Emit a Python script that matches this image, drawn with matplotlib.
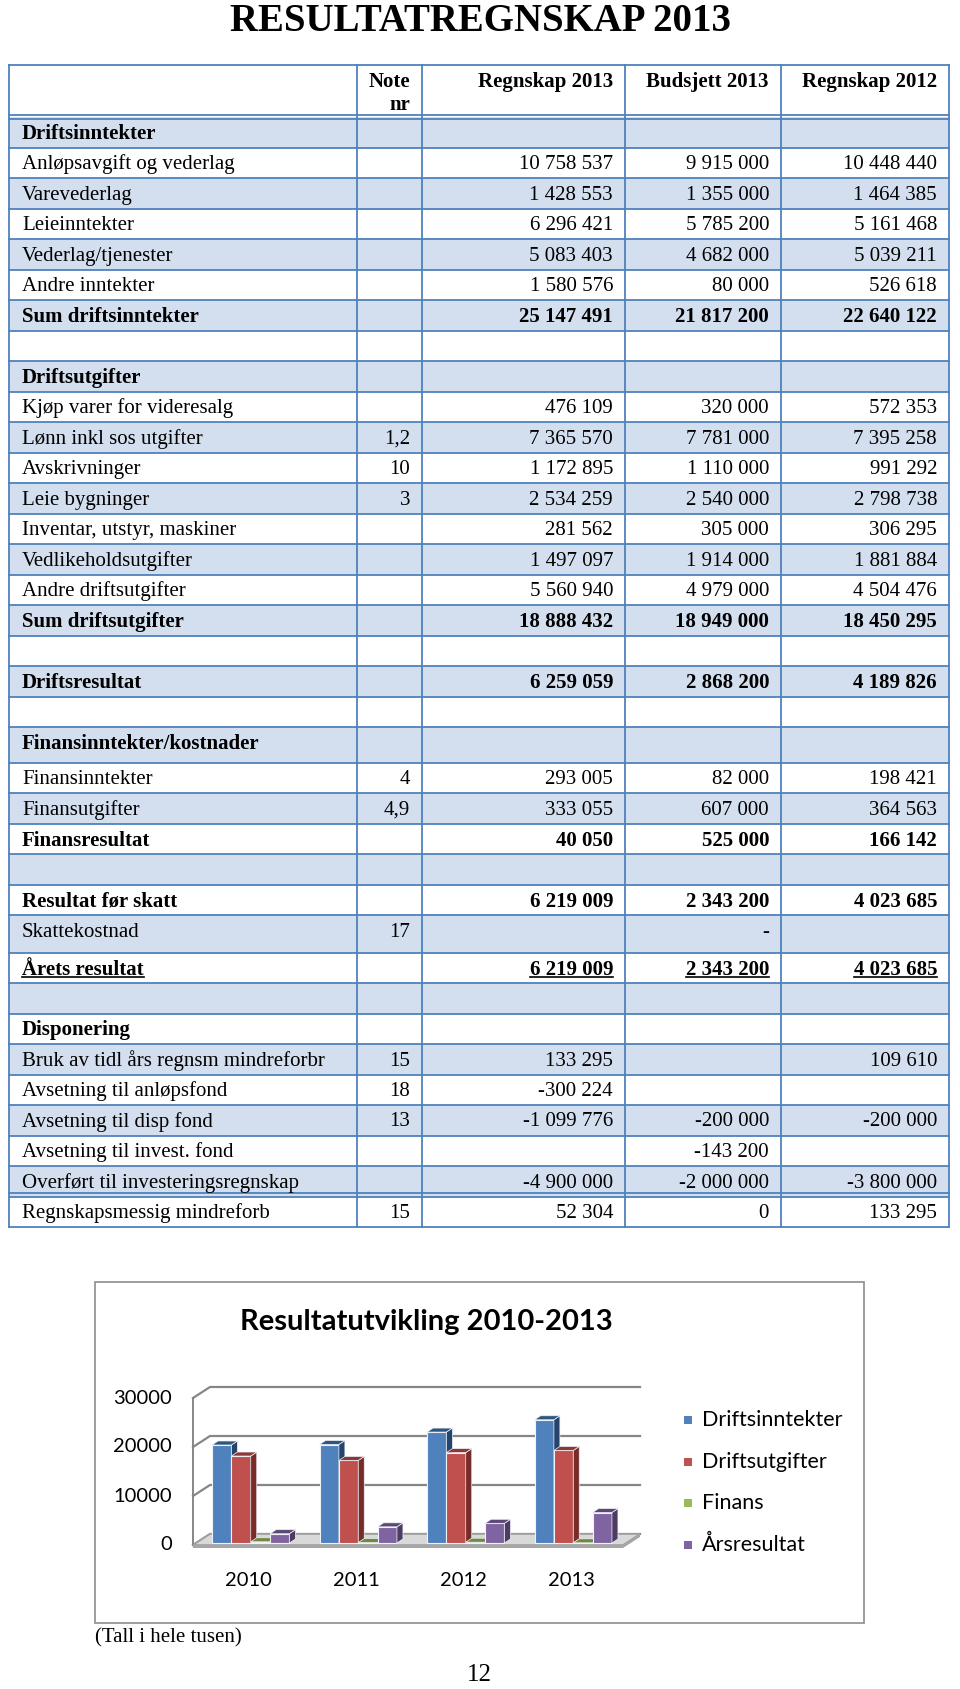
import matplotlib
matplotlib.use('Agg')
import matplotlib.pyplot as plt
from matplotlib.patches import Rectangle, Polygon
import numpy as np

W, H = 960, 1689

# --- tabell: resultatregnskap ---
labels = ["Driftsinntekter", "Anløpsavgift og vederlag", "Varevederlag", "Leieinntekter",
          "Vederlag/tjenester", "Andre inntekter", "Sum driftsinntekter", "",
          "Driftsutgifter", "Kjøp varer for videresalg", "Lønn inkl sos utgifter",
          "Avskrivninger", "Leie bygninger", "Inventar, utstyr, maskiner",
          "Vedlikeholdsutgifter", "Andre driftsutgifter", "Sum driftsutgifter", "",
          "Driftsresultat", "", "Finansinntekter/kostnader", "Finansinntekter",
          "Finansutgifter", "Finansresultat", "", "Resultat før skatt", "Skattekostnad",
          "Årets resultat", "", "Disponering", "Bruk av tidl års regnsm mindreforbr",
          "Avsetning til anløpsfond", "Avsetning til disp fond", "Avsetning til invest. fond",
          "Overført til investeringsregnskap", "Regnskapsmessig mindreforb"]
notes = ["", "", "", "", "", "", "", "", "", "", "1,2", "10", "3", "", "", "", "", "",
         "", "", "", "4", "4,9", "", "", "", "17", "", "", "", "15", "18", "13", "", "", "15"]
regnskap_2013 = ["", "10 758 537", "1 428 553", "6 296 421", "5 083 403", "1 580 576",
                 "25 147 491", "", "", "476 109", "7 365 570", "1 172 895", "2 534 259",
                 "281 562", "1 497 097", "5 560 940", "18 888 432", "", "6 259 059", "", "",
                 "293 005", "333 055", "40 050", "", "6 219 009", "", "6 219 009", "", "",
                 "133 295", "-300 224", "-1 099 776", "", "-4 900 000", "52 304"]
budsjett_2013 = ["", "9 915 000", "1 355 000", "5 785 200", "4 682 000", "80 000",
                 "21 817 200", "", "", "320 000", "7 781 000", "1 110 000", "2 540 000",
                 "305 000", "1 914 000", "4 979 000", "18 949 000", "", "2 868 200", "", "",
                 "82 000", "607 000", "525 000", "", "2 343 200", "-", "2 343 200", "", "",
                 "", "", "-200 000", "-143 200", "-2 000 000", "0"]
regnskap_2012 = ["", "10 448 440", "1 464 385", "5 161 468", "5 039 211", "526 618",
                 "22 640 122", "", "", "572 353", "7 395 258", "991 292", "2 798 738",
                 "306 295", "1 881 884", "4 504 476", "18 450 295", "", "4 189 826", "", "",
                 "198 421", "364 563", "166 142", "", "4 023 685", "", "4 023 685", "", "",
                 "109 610", "", "-200 000", "", "-3 800 000", "133 295"]
bold_rows = [0, 6, 8, 16, 18, 20, 23, 25, 27, 29]
underline_rows = [27]
col_heads = ["Regnskap 2013", "Budsjett 2013", "Regnskap 2012"]

# --- diagram: resultatutvikling (tall i hele tusen) ---
years = ["2010", "2011", "2012", "2013"]
series_names = ["Driftsinntekter", "Driftsutgifter", "Finans", "Årsresultat"]
driftsinntekter = [20000, 20100, 22640, 25147]
driftsutgifter = [17750, 16850, 18450, 18888]
finans = [250, 100, 166, 40]
arsresultat = [1900, 3300, 4024, 6219]
yticks = [0, 10000, 20000, 30000]

front_colors = ['#4F81BD', '#C0504D', '#9BBB59', '#8064A2']
side_colors = ['#26436B', '#772C2A', '#5F7530', '#4D3B62']
top_colors = ['#30557F', '#8C3836', '#71893F', '#5C4776']

serif = 'Liberation Serif'
sans = 'Lato'
blue_line = '#4F81BD'
shade = '#D3DFEE'

fig = plt.figure(figsize=(W / 100, H / 100), dpi=100)
tab = fig.add_axes([0, 0, 1, 1])
tab.set_xlim(0, W)
tab.set_ylim(H, 0)
tab.axis('off')

tab.text(480, 21, "RESULTATREGNSKAP 2013", ha='center', va='center',
         fontsize=28, fontweight='bold', family=serif)

xs = [9, 357, 422, 625, 781, 949]
top_y = 65
head_bot = 117
heights = [30.5] * len(labels)
heights[20] = 35.5
heights[26] = 37.5
row_tops = head_bot + np.concatenate([[0], np.cumsum(heights)])

# fills
for i in range(len(labels)):
    if i % 2 == 0:
        tab.add_patch(Rectangle((xs[0], row_tops[i]), xs[-1] - xs[0], heights[i],
                                facecolor=shade, edgecolor='none', zorder=1))

# lines
lw = 1.3
tab.plot([xs[0], xs[-1]], [top_y, top_y], color=blue_line, lw=lw, zorder=2)
for y in [head_bot - 2, head_bot + 1.5]:
    tab.plot([xs[0], xs[-1]], [y, y], color=blue_line, lw=lw, zorder=2)
for i in range(1, len(row_tops)):
    y = row_tops[i]
    tab.plot([xs[0], xs[-1]], [y, y], color=blue_line, lw=lw, zorder=2)
last_top = row_tops[-2]
tab.plot([xs[0], xs[-1]], [last_top - 3.5, last_top - 3.5], color=blue_line, lw=lw, zorder=2)
for x in xs:
    tab.plot([x, x], [top_y, row_tops[-1]], color=blue_line, lw=lw, zorder=2)

# header text
fs = 15
tab.text(xs[2] - 12, 82, "Note", ha='right', va='center', fontsize=fs,
         fontweight='bold', family=serif, zorder=3)
tab.text(xs[2] - 12, 105, "nr", ha='right', va='center', fontsize=fs,
         fontweight='bold', family=serif, zorder=3)
for j, h in enumerate(col_heads):
    tab.text(xs[j + 3] - 12, 82, h, ha='right', va='center', fontsize=fs,
             fontweight='bold', family=serif, zorder=3)

# body text
underline_texts = []
for i, lab in enumerate(labels):
    y = row_tops[i] + 17
    wgt = 'bold' if i in bold_rows else 'normal'
    cells = [(xs[0] + 13, lab, 'left'), (xs[2] - 12, notes[i], 'right'),
             (xs[3] - 12, regnskap_2013[i], 'right'), (xs[4] - 12, budsjett_2013[i], 'right'),
             (xs[5] - 12, regnskap_2012[i], 'right')]
    for x, s, ha in cells:
        if not s:
            continue
        t = tab.text(x, y, s, ha=ha, va='center', fontsize=fs, fontweight=wgt,
                     family=serif, zorder=3)
        if i in underline_rows:
            underline_texts.append(t)

# --- diagram ---
tab.add_patch(Rectangle((95, 1282), 769, 341, facecolor='none', edgecolor='#8C8C8C', lw=1.2))
tab.text(426, 1322, "Resultatutvikling 2010-2013", ha='center', va='center',
         fontsize=21, fontweight='bold', family=sans)
tab.text(95, 1638, "(Tall i hele tusen)", ha='left', va='center', fontsize=fs, family=serif)
tab.text(479, 1675, "12", ha='center', va='center', fontsize=18, family=serif)

ax = fig.add_axes([193 / W, (H - 1545) / H, 430 / W, 147 / H])
ax.set_xlim(-0.5, 3.5)
ax.set_ylim(0, 30000)
ax.axis('off')

px_x = 4 / 430
px_y = 30000 / 147
ddx, ddy = 17 * px_x, 11 * px_y
grid_c = '#868686'

# vegg og gulv
ax.plot([-0.5, -0.5], [0, 30000], color=grid_c, lw=1.4, clip_on=False, zorder=1)
for v in yticks:
    ax.plot([-0.5, -0.5 + ddx, 3.5 + ddx], [v, v + ddy, v + ddy], color=grid_c, lw=1.6,
            clip_on=False, zorder=1)
    ax.text(-0.5 - 21 * px_x, v, str(v), ha='right', va='center', fontsize=14.5, family=sans)
floor = Polygon([(-0.5, 0), (3.5, 0), (3.5 + ddx, ddy), (-0.5 + ddx, ddy)],
                closed=True, facecolor='#D9D9D9', edgecolor='#A0A0A0', lw=1.2,
                clip_on=False, zorder=1.5)
ax.add_patch(floor)
ax.add_patch(Polygon([(-0.5, 0), (3.5, 0), (3.5 + ddx, ddy), (3.5 + ddx, ddy - 3 * px_y),
                      (3.5, -3 * px_y), (-0.5, -3 * px_y)], closed=True,
                     facecolor='#A6A6A6', edgecolor='none', clip_on=False, zorder=1.5))

series = [driftsinntekter, driftsutgifter, finans, arsresultat]
bw = 0.18
off_x, off_y = 4 * px_x, 2 * px_y
bdx, bdy = 6 * px_x, 4 * px_y
xpos = np.arange(len(years))
for g in range(len(years)):
    for s, vals in enumerate(series):
        z = 3 + g * 4 + s
        b = ax.bar(xpos[g] - 2 * bw + s * bw + off_x, vals[g], width=bw, bottom=off_y,
                   align='edge', color=front_colors[s], edgecolor='#EEF2F8', lw=0.8,
                   clip_on=False, zorder=z)[0]
        x0, x1 = b.get_x(), b.get_x() + b.get_width()
        y0, y1 = b.get_y(), b.get_y() + b.get_height()
        ax.add_patch(Polygon([(x1, y0), (x1 + bdx, y0 + bdy), (x1 + bdx, y1 + bdy), (x1, y1)],
                             closed=True, facecolor=side_colors[s], edgecolor='#EEF2F8',
                             lw=0.5, clip_on=False, zorder=z))
        ax.add_patch(Polygon([(x0, y1), (x1, y1), (x1 + bdx, y1 + bdy), (x0 + bdx, y1 + bdy)],
                             closed=True, facecolor=top_colors[s], edgecolor='#EEF2F8',
                             lw=0.5, clip_on=False, zorder=z))

for g, yr in enumerate(years):
    ax.text(xpos[g] + 0.02, -36 * px_y, yr, ha='center', va='center', fontsize=14.5, family=sans)

# legend
leg_y = [1420, 1462, 1503, 1545]
for s, name in enumerate(series_names):
    tab.add_patch(Rectangle((684, leg_y[s] - 4), 8, 8, facecolor=front_colors[s], edgecolor='none'))
    tab.text(702, leg_y[s], name, ha='left', va='center', fontsize=15.5, family=sans)

# understreking av "Årets resultat"
fig.canvas.draw()
inv = tab.transData.inverted()
for t in underline_texts:
    bb = t.get_window_extent()
    (xa, ya), (xb, yb) = inv.transform([(bb.x0, bb.y0), (bb.x1, bb.y1)])
    yline = max(ya, yb) - 3
    tab.plot([xa, xb], [yline, yline], color='black', lw=1.2, zorder=3)

fig.savefig('out.png', dpi=100, facecolor='white')
